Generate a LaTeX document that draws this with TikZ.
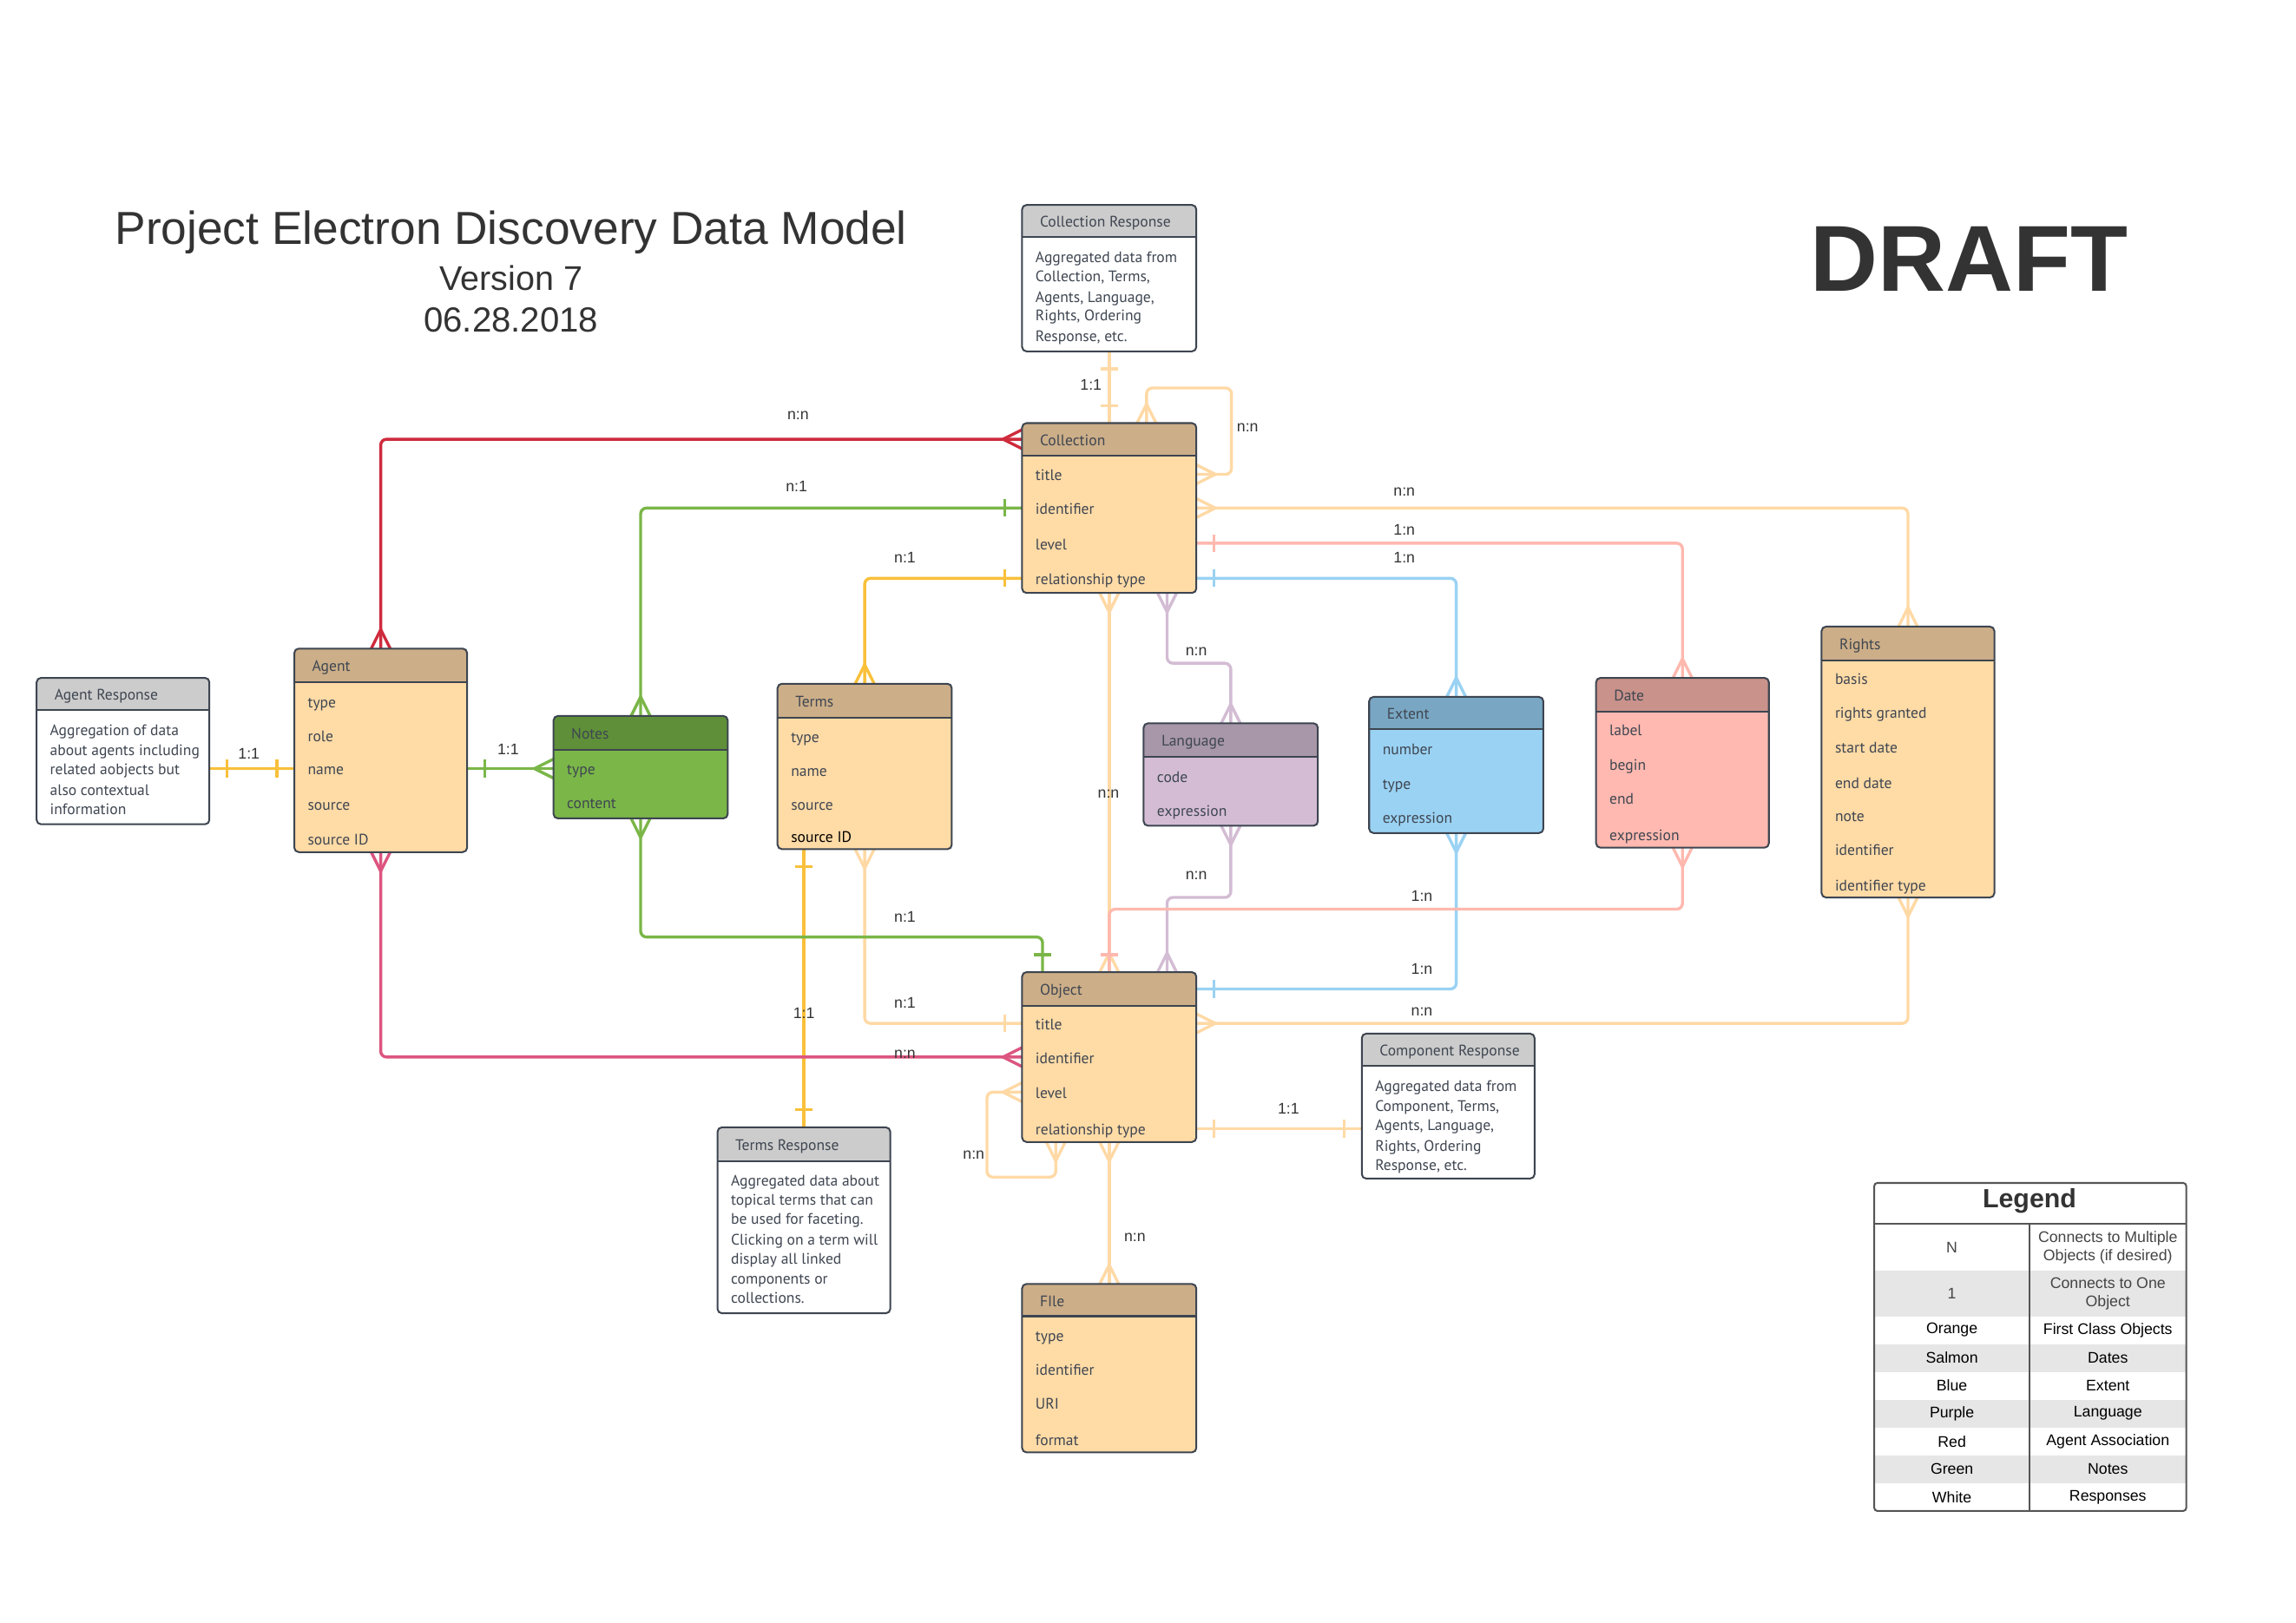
\documentclass[tikz,border=0pt]{standalone}
\usepackage{fontspec}
\setmainfont{Liberation Sans}
\newfontfamily\entfont{PT Sans}
\usetikzlibrary{calc}

\definecolor{bordc}{HTML}{3D4550}
\definecolor{txtc}{HTML}{3F4651}
\definecolor{labc}{HTML}{333333}
\definecolor{titc}{HTML}{333333}
\definecolor{hdtan}{HTML}{CCAE88}
\definecolor{bdor}{HTML}{FFDBA6}
\definecolor{hdgray}{HTML}{CCCCCC}
\definecolor{hdgreen}{HTML}{5F9039}
\definecolor{bdgreen}{HTML}{7AB648}
\definecolor{hdpurp}{HTML}{A797A8}
\definecolor{bdpurp}{HTML}{D4BDD4}
\definecolor{hdblue}{HTML}{79A7C3}
\definecolor{bdblue}{HTML}{9AD2F3}
\definecolor{hdsal}{HTML}{C9928B}
\definecolor{bdsal}{HTML}{FFB9B0}
\definecolor{clor}{HTML}{FFD9A5}
\definecolor{cgold}{HTML}{F9C03A}
\definecolor{cred}{HTML}{CE2B3C}
\definecolor{cpink}{HTML}{DC5580}
\definecolor{cgreen}{HTML}{7AB648}
\definecolor{cblue}{HTML}{9AD2F3}
\definecolor{cpurp}{HTML}{D3BCD4}
\definecolor{csal}{HTML}{FFB8AE}
\definecolor{lggray}{HTML}{E6E6E6}
\definecolor{lgline}{HTML}{555555}
\definecolor{lgtxt}{HTML}{444444}

\pgfdeclarelayer{bg}
\pgfsetlayers{bg,main}

\pgfdeclarearrow{
  name = ercrow,
  setup code = {
    \pgfarrowssettipend{0pt}
    \pgfarrowssetlineend{0pt}
    \pgfarrowssetbackend{-13pt}
    \pgfarrowshullpoint{0pt}{7pt}
    \pgfarrowshullpoint{0pt}{-7pt}
    \pgfarrowshullpoint{-13pt}{0pt}
  },
  drawing code = {
    \pgfsetlinewidth{2pt}
    \pgfsetdash{}{0pt}
    \pgfsetbuttcap
    \pgfsetmiterjoin
    \pgfpathmoveto{\pgfqpoint{0pt}{6.5pt}}
    \pgfpathlineto{\pgfqpoint{-13pt}{0pt}}
    \pgfpathlineto{\pgfqpoint{0pt}{-6.5pt}}
    \pgfusepathqstroke
  }
}
\pgfdeclarearrow{
  name = erone,
  setup code = {
    \pgfarrowssettipend{0pt}
    \pgfarrowssetlineend{0pt}
    \pgfarrowssetbackend{-13pt}
    \pgfarrowshullpoint{0pt}{6pt}
    \pgfarrowshullpoint{0pt}{-6pt}
    \pgfarrowshullpoint{-13pt}{6pt}
    \pgfarrowshullpoint{-13pt}{-6pt}
  },
  drawing code = {
    \pgfsetlinewidth{2pt}
    \pgfsetdash{}{0pt}
    \pgfsetbuttcap
    \pgfpathmoveto{\pgfqpoint{-12pt}{6pt}}
    \pgfpathlineto{\pgfqpoint{-12pt}{-6pt}}
    \pgfusepathqstroke
  }
}

\tikzset{
  ebody/.style={rounded corners=3pt, inner sep=0pt, outer sep=0pt},
  eborder/.style={draw=bordc, line width=1.2pt, rounded corners=3pt},
  hline/.style={draw=bordc, line width=1.2pt},
  rtext/.style={font=\entfont\fontsize{10.4}{12}\selectfont, text=txtc, anchor=west,
    inner sep=0pt, text height=9.8pt, text depth=1.2pt},
  conn/.style={line width=2pt, rounded corners=4pt},
  lab/.style={font=\fontsize{10.5}{12}\selectfont, text=labc, inner sep=0pt},
  lgt/.style={font=\fontsize{10.5}{12.6}\selectfont, text=black, inner sep=0pt, align=center},
}

% name, x1, y1, x2, y2, header bottom, header colour, body colour, title
\newcommand\entity[9]{%
  \node[ebody, fill=#8, anchor=north west, minimum width={(#4-#2)*1pt},
        minimum height={(#5-#3)*1pt}] (#1) at (#2,#3) {};
  \begin{scope}
    \clip[rounded corners=3pt] (#2,#3) rectangle (#4,#5);
    \fill[#7] (#2,#3) rectangle (#4,#6);
  \end{scope}
  \draw[hline] (#2,#6) -- (#4,#6);
  \draw[eborder] (#2,#3) rectangle (#4,#5);
  \node[rtext] (#1-0) at ({#2+12},{(#3+#6)/2}) {#9};
}
\newcommand\erows[3]{%
  \foreach \yy/\rowtxt [count=\ii] in {#3} {\node[rtext] (#1-\ii) at (#2,\yy) {\rowtxt};}%
}

\begin{document}
\begin{tikzpicture}[x=1pt,y=-1pt]
\useasboundingbox (0,0) rectangle (1568,1108);
\begin{pgfonlayer}{bg}
  \fill[white] (0,0) rectangle (1568,1108);
\end{pgfonlayer}

% ---------- titles ----------
\node[font=\fontsize{31.6}{36}\selectfont, text=titc, anchor=base, inner sep=0pt] (title) at (349,167) {Project Electron Discovery Data Model};
\node[font=\fontsize{23.4}{26}\selectfont, text=titc, anchor=base, inner sep=0pt] (version) at (349,198) {Version 7};
\node[font=\fontsize{23.8}{27}\selectfont, text=titc, anchor=base, inner sep=0pt] (date-t) at (349,227) {06.28.2018};
\node[font=\bfseries\fontsize{64}{70}\selectfont, text=titc, anchor=base, inner sep=0pt] (draft) at (1345,199) {DRAFT};

% ---------- entities ----------
\entity{cresp}{698}{140}{817}{240}{162}{hdgray}{white}{Collection Response}
\erows{cresp}{707}{175/Aggregated data from, 188/{Collection, Terms,}, 202/{Agents, Language,}, 215/{Rights, Ordering}, 229/{Response, etc.}}

\entity{coll}{698}{289}{817}{405}{311}{hdtan}{bdor}{Collection}
\erows{coll}{707}{324/title, 347/identifier, 371/level, 395/relationship type}

\entity{aresp}{25}{463}{143}{563}{485}{hdgray}{white}{Agent Response}
\erows{aresp}{34}{498/Aggregation of data, 512/about agents including, 525/related aobjects but, 539/also contextual, 552/information}

\entity{agent}{201}{443}{319}{582}{466}{hdtan}{bdor}{Agent}
\erows{agent}{210}{479/type, 502/role, 525/name, 549/source, 573/source ID}

\entity{notes}{378}{489}{497}{559}{512}{hdgreen}{bdgreen}{Notes}
\erows{notes}{387}{525/type, 548/content}

\entity{terms}{531}{467}{650}{580}{490}{hdtan}{bdor}{Terms}
\erows{terms}{540}{503/type, 526/name, 549/source, 571/{\color{black}source ID}}

\entity{lang}{781}{494}{900}{564}{517}{hdpurp}{bdpurp}{Language}
\erows{lang}{790}{530/code, 553/expression}

\entity{ext}{935}{476}{1054}{569}{498}{hdblue}{bdblue}{Extent}
\erows{ext}{944}{511/number, 535/type, 558/expression}

\entity{date}{1090}{463}{1208}{579}{486}{hdsal}{bdsal}{Date}
\erows{date}{1099}{498/label, 522/begin, 545/end, 570/expression}

\entity{rights}{1244}{428}{1362}{613}{451}{hdtan}{bdor}{Rights}
\erows{rights}{1253}{463/basis, 486/rights granted, 510/start date, 534/end date, 557/note, 580/identifier, 604/identifier type}

\entity{obj}{698}{664}{817}{780}{687}{hdtan}{bdor}{Object}
\erows{obj}{707}{699/title, 722/identifier, 746/level, 771/relationship type}

\entity{compresp}{930}{706}{1048}{805}{728}{hdgray}{white}{Component Response}
\erows{compresp}{939}{741/Aggregated data from, 755/{Component, Terms,}, 768/{Agents, Language,}, 782/{Rights, Ordering}, 795/{Response, etc.}}

\entity{tresp}{490}{770}{608}{897}{793}{hdgray}{white}{Terms Response}
\erows{tresp}{499}{806/Aggregated data about, 819/topical terms that can, 832/be used for faceting., 846/Clicking on a term will, 859/display all linked, 873/components or, 886/collections.}

\entity{file}{698}{877}{817}{992}{899}{hdtan}{bdor}{FIle}
\erows{file}{707}{912/type, 935/identifier, 958/URI, 983/format}

% ---------- connectors ----------
\coordinate (cl1) at (783,265);
\coordinate (cl2) at (841,265);
\coordinate (pl1) at (797,453);
\coordinate (pl2) at (797,613);
\coordinate (sl1) at (757.5,621);
\coordinate (tl1) at (549,0);
\coordinate (gl1) at (712,640);
\coordinate (ol1) at (674,804);
\coordinate (ol2) at (721,804);

\begin{pgfonlayer}{bg}
\draw[conn,clor,erone-erone] (cresp.south) -- (coll.north);
\draw[conn,clor,ercrow-ercrow] (coll.north -| cl1) -- (cl1) -- (cl2) |- (coll.east |- coll-1);
\draw[conn,clor,ercrow-ercrow] (coll.east |- coll-2) -| (rights.north);
\draw[conn,csal,erone-ercrow] (coll.east |- coll-3) -| (date.north);
\draw[conn,cblue,erone-ercrow] (coll.east |- coll-4) -| (ext.north);
\draw[conn,cred,ercrow-ercrow] (coll.west |- coll-0) -| (agent.north);
\draw[conn,cgreen,erone-ercrow] (coll.west |- coll-2) -| (notes.north);
\draw[conn,cgold,erone-ercrow] (coll.west |- coll-4) -| (terms.north);
\draw[conn,clor,ercrow-ercrow] (coll.south) -- (obj.north);
\draw[conn,cpurp,ercrow-ercrow] (coll.south -| pl1) -- (pl1) -| (lang.north);
\draw[conn,cpurp,ercrow-ercrow] (lang.south) |- (pl2) -- (obj.north -| pl2);
\draw[conn,cblue,ercrow-erone] (ext.south) |- (obj.east |- obj-0);
\draw[conn,csal,ercrow-erone] (date.south) |- (sl1) -- (obj.north -| sl1);
\draw[conn,clor,ercrow-ercrow] (rights.south) |- (obj.east |- obj-1);
\draw[conn,clor,ercrow-erone] (terms.south) |- (obj.west |- obj-1);
\draw[conn,cgold,erone-erone] (terms.south -| tl1) -- (tresp.north -| tl1);
\draw[conn,cgreen,ercrow-erone] (notes.south) |- (gl1) -- (obj.north -| gl1);
\draw[conn,cpink,ercrow-ercrow] (agent.south) |- (obj.west |- obj-2);
\draw[conn,cgold,erone-erone] (aresp.east |- agent-3) -- (agent.west |- agent-3);
\draw[conn,cgreen,erone-ercrow] (agent.east |- agent-3) -- (notes.west |- agent-3);
\draw[conn,clor,ercrow-ercrow] (obj.west |- obj-3) -| (ol1) -- (ol2) -- (obj.south -| ol2);
\draw[conn,clor,ercrow-ercrow] (obj.south) -- (file.north);
\draw[conn,clor,erone-erone] (obj.east |- obj-4) -- (compresp.west |- obj-4);
\end{pgfonlayer}

% ---------- connector labels ----------
\node[lab] (lb1) at (745,263) {1:1};
\node[lab] (lb2) at (852,292) {n:n};
\node[lab] (lb3) at (545,284) {n:n};
\node[lab] (lb4) at (544,332) {n:1};
\node[lab] (lb5) at (618,381) {n:1};
\node[lab] (lb6) at (959,336) {n:n};
\node[lab] (lb7) at (959,362) {1:n};
\node[lab] (lb8) at (959,381) {1:n};
\node[lab] (lb9) at (817,445) {n:n};
\node[lab] (lb10) at (757,542) {n:n};
\node[lab] (lb11) at (817,598) {n:n};
\node[lab] (lb12) at (971,612) {1:n};
\node[lab] (lb13) at (618,626) {n:1};
\node[lab] (lb14) at (971,662) {1:n};
\node[lab] (lb15) at (618,685) {n:1};
\node[lab] (lb16) at (549,692) {1:1};
\node[lab] (lb17) at (971,691) {n:n};
\node[lab] (lb18) at (618,720) {n:n};
\node[lab] (lb19) at (170,515) {1:1};
\node[lab] (lb20) at (347,512) {1:1};
\node[lab] (lb21) at (665,789) {n:n};
\node[lab] (lb22) at (880,757) {1:1};
\node[lab] (lb23) at (775,845) {n:n};

% ---------- legend ----------
\node[inner sep=0pt, outer sep=0pt, minimum width=213pt, minimum height=224pt, anchor=north west] (legend) at (1280,808) {};
\fill[lggray] (1280,868) rectangle (1493,899);
\fill[lggray] (1280,918) rectangle (1493,937);
\fill[lggray] (1280,956) rectangle (1493,975);
\fill[lggray] (1280,994) rectangle (1493,1013);
\draw[lgline, line width=1.2pt] (1280,836) -- (1493,836);
\draw[lgline, line width=1.2pt] (1386,836) -- (1386,1032);
\draw[lgline, line width=1.2pt, rounded corners=2pt] (1280,808) rectangle (1493,1032);
\node[font=\bfseries\fontsize{18}{20}\selectfont, text=titc, inner sep=0pt] (lg-title) at (1386,820) {Legend};
\node[lgt, text=lgtxt] (lg-a1) at (1333,852) {N};
\node[lgt, text=lgtxt] (lg-b1) at (1439.5,852) {Connects to Multiple\\Objects (if desired)};
\node[lgt, text=lgtxt] (lg-a2) at (1333,883.5) {1};
\node[lgt, text=lgtxt] (lg-b2) at (1439.5,883.5) {Connects to One\\Object};
\node[lgt] (lg-a3) at (1333,908.5) {Orange};
\node[lgt] (lg-b3) at (1439.5,908.5) {First Class Objects};
\node[lgt] (lg-a4) at (1333,927.5) {Salmon};
\node[lgt] (lg-b4) at (1439.5,927.5) {Dates};
\node[lgt] (lg-a5) at (1333,946.5) {Blue};
\node[lgt] (lg-b5) at (1439.5,946.5) {Extent};
\node[lgt] (lg-a6) at (1333,965.5) {Purple};
\node[lgt] (lg-b6) at (1439.5,965.5) {Language};
\node[lgt] (lg-a7) at (1333,984.5) {Red};
\node[lgt] (lg-b7) at (1439.5,984.5) {Agent Association};
\node[lgt] (lg-a8) at (1333,1003.5) {Green};
\node[lgt] (lg-b8) at (1439.5,1003.5) {Notes};
\node[lgt] (lg-a9) at (1333,1022.5) {White};
\node[lgt] (lg-b9) at (1439.5,1022.5) {Responses};
\end{tikzpicture}
\end{document}
